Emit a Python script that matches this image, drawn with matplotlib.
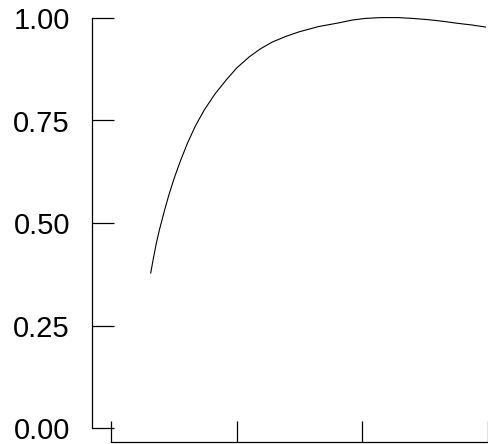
import matplotlib
matplotlib.use("Agg")
import matplotlib.pyplot as plt

# Data
x_vals = [0.316, 0.338, 0.361, 0.385, 0.427, 0.462, 0.506, 0.553, 0.609,
          0.672, 0.743, 0.828, 0.917, 1.000, 1.099, 1.190, 1.281, 1.390,
          1.494, 1.650, 1.810, 1.920, 2.024, 2.150, 2.285, 2.400, 2.522,
          2.640, 2.759, 2.870, 2.980]
y_vals = [0.378, 0.415, 0.451, 0.483, 0.532, 0.570, 0.612, 0.652, 0.695,
          0.737, 0.776, 0.815, 0.849, 0.878, 0.905, 0.925, 0.941, 0.955,
          0.966, 0.979, 0.988, 0.995, 0.999, 1.001, 1.001, 0.999, 0.996,
          0.992, 0.987, 0.983, 0.978]
y_ticks = [0.0, 0.25, 0.5, 0.75, 1.0]
y_tick_labels = ["0.00", "0.25", "0.50", "0.75", "1.00"]
x_ticks = [0, 1, 2, 3]

plt.rcParams['font.family'] = ['Liberation Sans', 'DejaVu Sans']

W, H = 488, 444
fig = plt.figure(figsize=(W / 100, H / 100), dpi=100)
ax = fig.add_axes([111 / W, 16 / H, 377 / W, 410 / H])

ax.plot(x_vals, y_vals, color="black", linewidth=0.8, clip_on=False,
        solid_joinstyle="round")

ax.set_xlim(0, 2.98)
ax.set_ylim(0, 1)

for s in ("top", "right"):
    ax.spines[s].set_visible(False)
ax.spines["left"].set_position(("outward", 19 * 0.72))
ax.spines["bottom"].set_position(("outward", 14 * 0.72))
ax.spines["left"].set_bounds(0, 1)
ax.spines["bottom"].set_bounds(0, 3)
for s in ("left", "bottom"):
    ax.spines[s].set_linewidth(0.9)
    ax.spines[s].set_color("black")

ax.set_yticks(y_ticks)
ax.set_yticklabels(y_tick_labels)
ax.set_xticks(x_ticks)
ax.tick_params(axis="y", direction="in", length=22 * 0.72, width=0.9,
               labelsize=21, pad=22 * 0.72, colors="black")
ax.tick_params(axis="x", direction="in", length=21 * 0.72, width=0.9,
               labelbottom=False, colors="black")

fig.savefig("out.png", dpi=100)
